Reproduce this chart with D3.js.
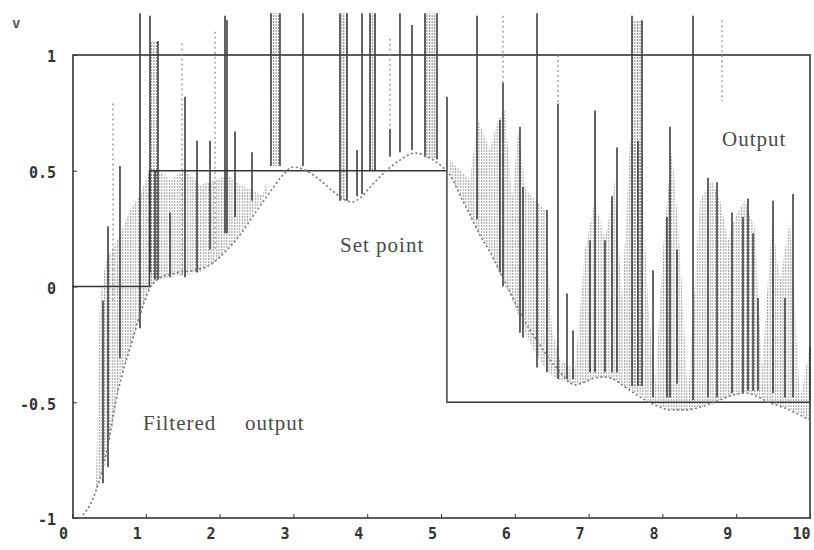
<!DOCTYPE html>
<html><head><meta charset="utf-8">
<script src="https://cdn.jsdelivr.net/npm/d3@7"></script>
<style>
html,body{margin:0;padding:0;background:#fff;}
svg{display:block;}
.tick text{font-family:"DejaVu Sans Mono",monospace;font-size:15px;fill:#333;font-weight:bold;}
.ann{font-family:"Liberation Serif","DejaVu Serif",serif;font-size:21px;fill:#4a4a4a;letter-spacing:1px;}
</style></head>
<body>
<svg id="c" width="814" height="550"></svg>
<script>
// ---- data ----
const xTicks = [0,1,2,3,4,5,6,7,8,9,10];
const yTicks = [1,0.5,0,-0.5,-1];

const setpointT = [0, 1.05, 5.08, 10];
const setpointV = [0, 0.5, -0.5, -0.5];

const filteredT = [0.149,0.244,0.379,0.488,0.583,0.678,0.786,0.921,1.057,1.192,1.396,1.667,1.870,2.073,2.276,2.480,2.683,2.859,2.995,3.157,3.360,3.564,3.699,3.794,3.902,4.065,4.241,4.444,4.648,4.824,4.986,5.122,5.257,5.393,5.528,5.664,5.799,5.935,6.070,6.206,6.341,6.477,6.612,6.707,6.816,6.951,7.087,7.222,7.358,7.493,7.696,7.900,8.103,8.306,8.509,8.713,8.916,9.119,9.295,9.458,9.661,9.864,10.0];
const filteredV = [-0.987,-0.944,-0.827,-0.685,-0.512,-0.382,-0.266,-0.123,-0.006,0.037,0.058,0.071,0.093,0.149,0.222,0.317,0.408,0.482,0.516,0.503,0.460,0.404,0.374,0.365,0.382,0.438,0.495,0.546,0.577,0.559,0.525,0.482,0.395,0.309,0.222,0.149,0.063,-0.024,-0.110,-0.188,-0.253,-0.317,-0.369,-0.404,-0.425,-0.413,-0.395,-0.391,-0.404,-0.434,-0.477,-0.512,-0.533,-0.533,-0.521,-0.499,-0.473,-0.460,-0.477,-0.503,-0.525,-0.555,-0.577];

// output spikes (time, top, bottom)
const spikeT = [0.42,0.488,0.65,0.921,1.057,1.125,1.165,1.328,1.531,1.694,1.87,2.073,2.1,2.209,2.439,2.696,2.818,3.13,3.631,3.726,3.862,3.93,4.038,4.106,4.309,4.444,4.607,4.783,4.946,5.081,5.488,5.799,5.84,6.07,6.111,6.301,6.436,6.585,6.707,6.789,7.019,7.087,7.222,7.317,7.385,7.588,7.669,7.724,7.873,8.062,8.103,8.198,8.415,8.618,8.74,8.943,9.092,9.16,9.228,9.295,9.499,9.661,9.77,10.0];
const spikeHigh = [-0.06,0.26,0.52,1.18,1.17,0.5,1.06,0.32,0.82,0.63,0.63,1.17,1.15,0.67,0.58,1.18,1.18,1.18,1.18,1.18,0.59,1.18,1.18,1.18,0.68,1.18,1.13,1.18,1.18,0.82,1.17,0.72,0.88,0.69,0.43,1.18,0.33,0.79,-0.03,-0.19,0.2,0.76,0.2,0.39,0.6,1.17,0.63,1.15,0.07,0.3,0.69,0.16,1.17,0.47,0.45,0.32,0.3,0.38,0.23,-0.05,0.37,-0.05,0.4,-0.26];
const spikeLow = [-0.85,-0.78,-0.31,-0.18,0.06,0.03,0.03,0.04,0.04,0.06,0.16,0.23,0.23,0.3,0.37,0.52,0.52,0.52,0.37,0.37,0.39,0.4,0.5,0.5,0.56,0.58,0.59,0.56,0.55,0.5,0.29,0.06,0,-0.2,-0.22,-0.35,-0.37,-0.4,-0.4,-0.4,-0.37,-0.37,-0.37,-0.37,-0.37,-0.43,-0.43,-0.43,-0.48,-0.48,-0.48,-0.42,-0.49,-0.48,-0.48,-0.46,-0.46,-0.45,-0.45,-0.45,-0.46,-0.48,-0.48,-0.49];

// faint (dotted) output excursions
const faintT = [0.556,1.49,1.938,4.309,5.84,6.585,8.808];
const faintHigh = [0.79,1.05,1.1,1.07,1.17,1.0,1.15];
const faintLow = [-0.06,0.04,0.16,0.68,0.88,0.79,0.8];

// wide output pulses (hatched interior)
const pulseStart = [1.057,2.696,3.631,4.038,4.783,7.588];
const pulseEnd   = [1.165,2.818,3.726,4.106,4.946,7.724];
const pulseHigh  = [1.06,1.18,1.18,1.18,1.18,1.15];
const pulseLow   = [0.04,0.52,0.37,0.5,0.55,-0.43];

// dense output oscillation band (hatched)
const hatch1T   = [0.325,0.379,0.461,0.542,0.650,0.786,0.921,1.030,1.165,1.328,1.531,1.734,1.938,2.114,2.276,2.439,2.575,2.656];
const hatch1Top = [-0.836,-0.058,0.114,0.158,0.222,0.330,0.395,0.482,0.503,0.460,0.503,0.438,0.460,0.482,0.438,0.417,0.395,0.460];
const hatch1Bot = [-0.879,-0.827,-0.728,-0.620,-0.404,-0.266,-0.136,-0.024,0.028,0.041,0.050,0.063,0.106,0.166,0.222,0.309,0.374,0.408];
const hatch2T   = [5.122,5.257,5.393,5.501,5.664,5.772,5.867,5.962,6.043,6.152,6.274,6.409,6.504,6.612,6.816,6.951,7.087,7.222,7.358,7.453,7.561,7.696,7.805,7.900,8.035,8.130,8.238,8.347,8.509,8.672,8.780,8.889,8.984,9.119,9.255,9.350,9.485,9.593,9.729,9.864,10.0];
const hatch2Top = [0.546,0.503,0.460,0.719,0.590,0.719,0.762,0.374,0.676,0.417,0.374,0.330,-0.188,-0.317,-0.361,0.158,0.374,0.201,0.460,-0.058,0.633,0.633,-0.058,-0.425,0.287,0.590,0.158,-0.482,0.374,0.460,0.374,0.200,0.300,0.374,0.244,-0.361,0.287,0.028,0.287,-0.490,-0.261];
const hatch2Bot = [0.482,0.395,0.309,0.235,0.158,0.071,0.006,-0.058,-0.123,-0.210,-0.283,-0.352,-0.387,-0.404,-0.425,-0.413,-0.395,-0.391,-0.404,-0.425,-0.447,-0.469,-0.490,-0.512,-0.525,-0.533,-0.533,-0.533,-0.521,-0.503,-0.490,-0.477,-0.469,-0.460,-0.469,-0.482,-0.503,-0.516,-0.529,-0.546,-0.577];

// ---- drawing ----
const svg = d3.select("#c");
const x = d3.scaleLinear().domain([0,10]).range([72,810]);
const y = d3.scaleLinear().domain([-1,1]).range([518,55]);
const ink = "#363636";

const defs = svg.append("defs");
const pat = defs.append("pattern").attr("id","hatch").attr("width",2.6).attr("height",3)
  .attr("patternUnits","userSpaceOnUse");
pat.append("rect").attr("width",1.1).attr("height",2).attr("fill","#555");

// hatched bands
[[hatch1T,hatch1Top,hatch1Bot],[hatch2T,hatch2Top,hatch2Bot]].forEach(([T,Tp,B])=>{
  const d = T.map((t,i)=>({t,top:Tp[i],bot:B[i]}));
  svg.append("path").datum(d)
    .attr("d", d3.area().x(p=>x(p.t)).y0(p=>y(p.bot)).y1(p=>y(p.top)).curve(d3.curveLinear))
    .attr("fill","url(#hatch)").attr("opacity",0.55);
});

// pulses
pulseStart.forEach((s,i)=>{
  svg.append("rect").attr("x",x(s)).attr("width",x(pulseEnd[i])-x(s))
    .attr("y",y(pulseHigh[i])).attr("height",y(pulseLow[i])-y(pulseHigh[i]))
    .attr("fill","url(#hatch)").attr("opacity",0.7);
});

// frame
svg.append("rect").attr("x",x(0)+1).attr("y",y(1)).attr("width",x(10)-x(0)-1).attr("height",y(-1)-y(1))
  .attr("fill","none").attr("stroke",ink).attr("stroke-width",1.6);

// axes
const xAxis = d3.axisBottom(x).tickValues(xTicks).tickSizeInner(-4).tickSizeOuter(0).tickPadding(9)
  .tickFormat(d=>String(d));
const gx = svg.append("g").attr("transform",`translate(0,${y(-1)})`).call(xAxis);
gx.select(".domain").remove();
gx.selectAll(".tick line").attr("stroke",ink);
gx.selectAll(".tick text").attr("dx",-9).attr("dy","0.8em");

const yAxis = d3.axisLeft(y).tickValues(yTicks).tickSizeInner(-4).tickSizeOuter(0).tickPadding(17)
  .tickFormat(d=>String(d));
const gy = svg.append("g").attr("transform",`translate(${x(0)+1},0)`).call(yAxis);
gy.select(".domain").remove();
gy.selectAll(".tick line").attr("stroke",ink);
gy.selectAll(".tick text").attr("dy","0.45em");

// faint excursions
faintT.forEach((t,i)=>{
  svg.append("line").attr("x1",x(t)).attr("x2",x(t)).attr("y1",y(faintHigh[i])).attr("y2",y(faintLow[i]))
    .attr("stroke","#888").attr("stroke-width",1.2).attr("stroke-dasharray","2,3");
});

// spikes
spikeT.forEach((t,i)=>{
  svg.append("line").attr("x1",x(t)).attr("x2",x(t)).attr("y1",y(spikeHigh[i])).attr("y2",y(spikeLow[i]))
    .attr("stroke","#3e3e3e").attr("stroke-width",1.6);
});

// setpoint
const spData = setpointT.map((t,i)=>({t,v:setpointV[i]}));
svg.append("path").datum(spData)
  .attr("d", d3.line().x(p=>x(p.t)).y(p=>y(p.v)).curve(d3.curveStepAfter))
  .attr("fill","none").attr("stroke",ink).attr("stroke-width",1.4);

// filtered output
const fData = filteredT.map((t,i)=>({t,v:filteredV[i]}));
svg.append("path").datum(fData)
  .attr("d", d3.line().x(p=>x(p.t)).y(p=>y(p.v)).curve(d3.curveMonotoneX))
  .attr("fill","none").attr("stroke","#777").attr("stroke-width",1.6).attr("stroke-dasharray","2,2.5");

// annotations
svg.append("text").attr("class","ann").attr("x",722).attr("y",146).text("Output");
svg.append("text").attr("class","ann").attr("x",340).attr("y",252).text("Set point");
svg.append("text").attr("class","ann").attr("x",143).attr("y",430).text("Filtered");
svg.append("text").attr("class","ann").attr("x",245).attr("y",430).text("output");
svg.append("text").attr("x",12).attr("y",28).attr("font-family","DejaVu Sans Mono").attr("font-size",14)
  .attr("font-weight","bold").attr("fill","#555").text("v");
</script>
</body></html>
